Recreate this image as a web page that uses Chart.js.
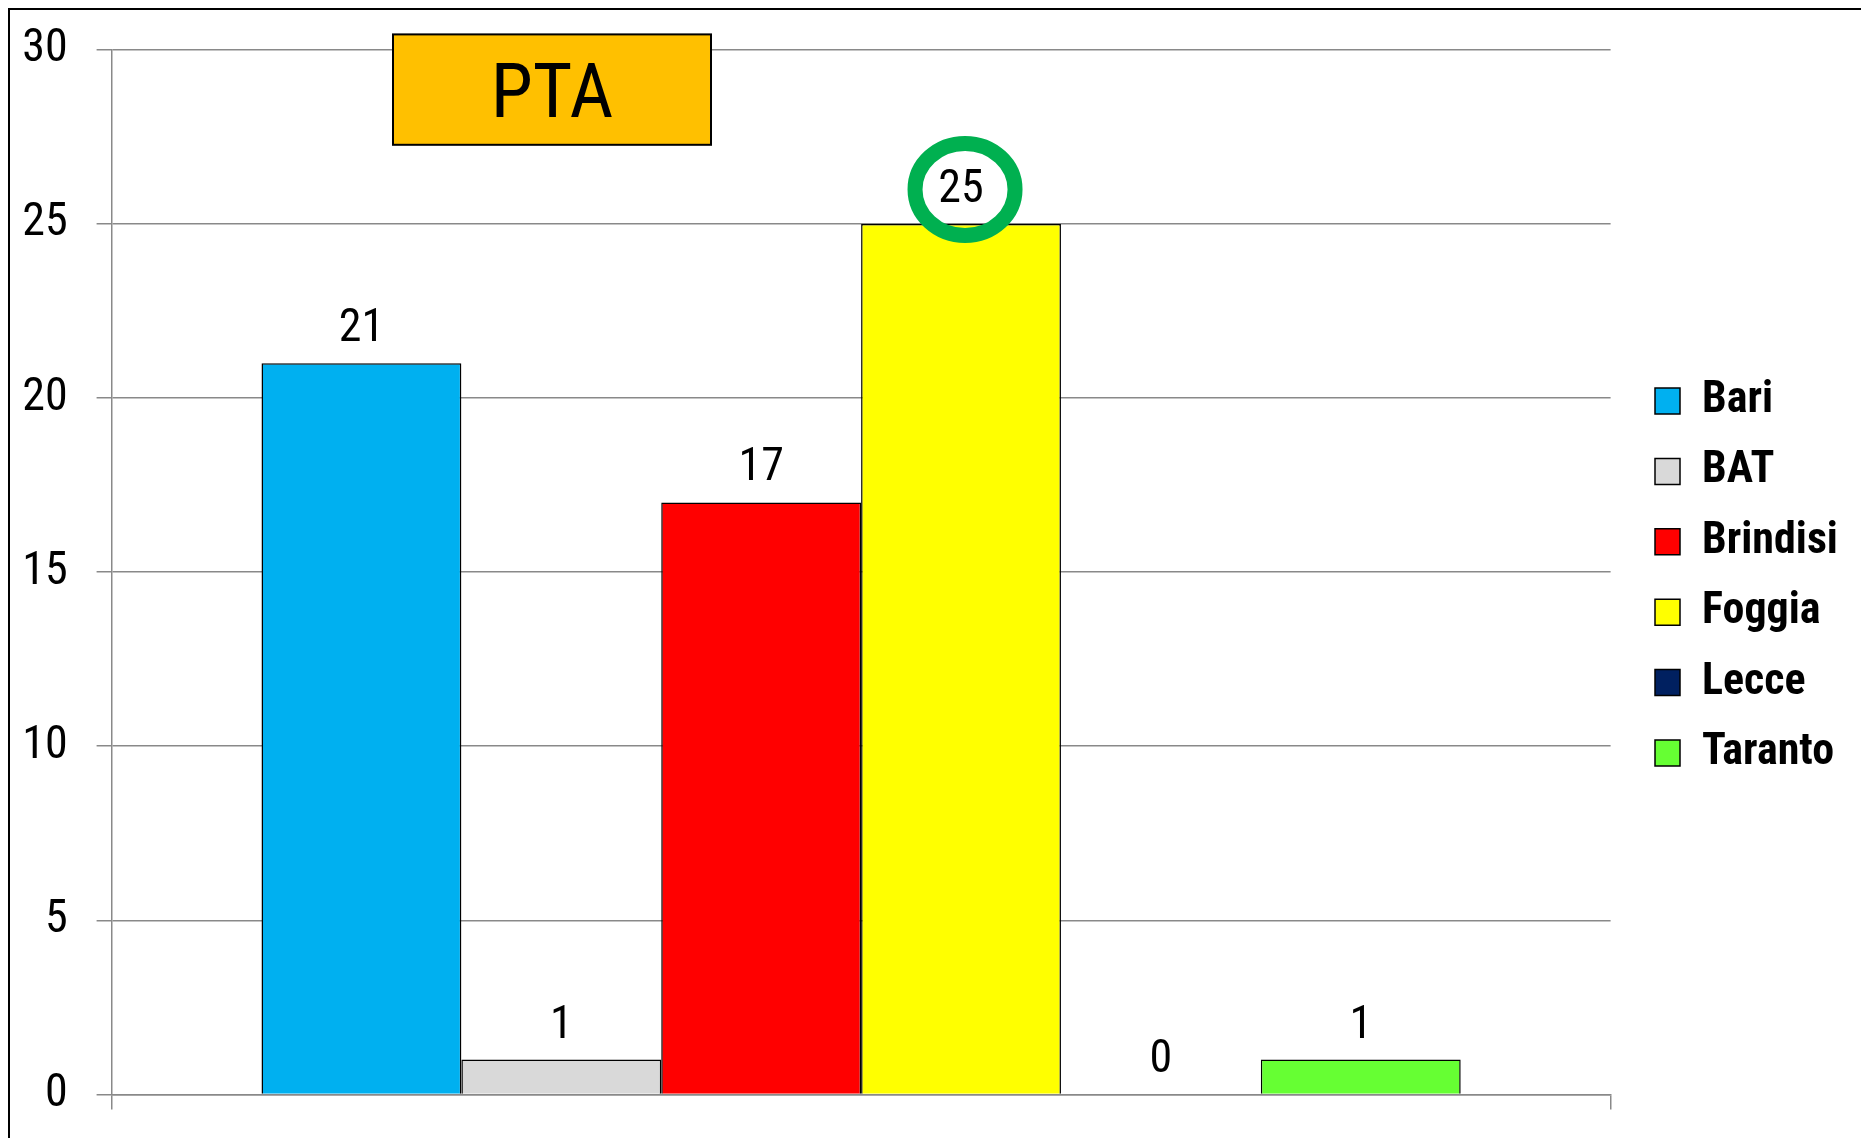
<!DOCTYPE html>
<html><head><meta charset="utf-8">
<script src="https://cdn.jsdelivr.net/npm/chart.js@4/dist/chart.umd.min.js"></script>
<style>html,body{margin:0;padding:0;background:#fff;overflow:hidden}canvas{display:block}</style>
</head><body>
<canvas id="c" width="1861" height="1138"></canvas>
<script>
// ---- data ----
const categories = [''];
const seriesNames = ['Bari', 'BAT', 'Brindisi', 'Foggia', 'Lecce', 'Taranto'];
const seriesValues = [21, 1, 17, 25, 0, 1];
const yTickMin = 0, yTickMax = 30, yTickStep = 5;
const chartTitle = 'PTA';
const highlightedSeries = 'Foggia';

// ---- styles ----
const seriesColors = ['#00B0F0', '#D9D9D9', '#FF0000', '#FFFF00', '#002060', '#66FF33'];
const W = 1861, H = 1138;

function fontAvailable(name) {
  const c = document.createElement('canvas').getContext('2d');
  const txt = 'mmmmmmmmmmlli0123456789BrindisiWW';
  return ['monospace', 'serif', 'sans-serif'].some(fb => {
    c.font = `40px ${fb}`;
    const w1 = c.measureText(txt).width;
    c.font = `40px '${name}', ${fb}`;
    const w2 = c.measureText(txt).width;
    return Math.abs(w1 - w2) > 0.01;
  });
}
const candidates = ['Liberation Sans Narrow', 'Arial Narrow', 'Roboto Condensed', 'DejaVu Sans Condensed', 'Liberation Sans'];
const chosen = candidates.find(fontAvailable) || 'sans-serif';
const FONT = `'${chosen}', sans-serif`;

const mctx = document.createElement('canvas').getContext('2d');
mctx.font = `100px ${FONT}`;
const m0 = mctx.measureText('0');
const digitH = (m0.actualBoundingBoxAscent + m0.actualBoundingBoxDescent) / 100;
const NUM_SIZE = Math.round(34 / digitH);
const capH = mctx.measureText('P').actualBoundingBoxAscent / 100;
const TITLE_SIZE = Math.round(54 / capH);

const AREA = {left: 111.6, top: 49.8, right: 1610.6, bottom: 1094.4};
let legSize = Math.round(31 / capH);
mctx.font = `bold ${legSize}px ${FONT}`;
const maxTextW = Math.max(...seriesNames.map(s => mctx.measureText(s).width));
const maxAllowed = W - 1697 - 14;
if (maxTextW > maxAllowed) { legSize = Math.floor(legSize * maxAllowed / maxTextW); }
const LEG = {size: legSize, box: 25, boxH: 26, pad: 70.4 - legSize, boxLeft: 1655, rowCenter: 401};
const AXIS_GRAY = '#898989';
const Y_TICK_GAP = 29, Y_TICK_MARK = 15;

let xAxisH = H - AREA.bottom, padTop = AREA.top, padRight = 20;

const decorations = {
  id: 'decorations',
  beforeDraw(chart) {
    const ctx = chart.ctx;
    ctx.save();
    ctx.fillStyle = '#fff';
    ctx.fillRect(0, 0, W, H);
    ctx.strokeStyle = '#000';
    ctx.lineWidth = 2;
    ctx.beginPath();
    ctx.moveTo(9, H + 5);
    ctx.lineTo(9, 9);
    ctx.lineTo(W + 5, 9);
    ctx.stroke();
    ctx.restore();
  },
  afterLayout(chart) {
    const lg = chart.legend;
    if (!lg) return;
    const dx = (LEG.boxLeft - LEG.pad) - lg.left;
    lg.left += dx; lg.right += dx;
    const colH = lg.columnSizes && lg.columnSizes[0] ? lg.columnSizes[0].height : 0;
    const curY = (lg.top + LEG.pad + lg.bottom - colH) / 2;
    const dy = (LEG.rowCenter - LEG.size / 2) - curY;
    lg.top += dy; lg.bottom += dy;
  },
  afterDatasetsDraw(chart) {
    const ctx = chart.ctx;
    ctx.save();
    ctx.font = `${NUM_SIZE}px ${FONT}`;
    ctx.fillStyle = '#000';
    ctx.textAlign = 'center';
    ctx.textBaseline = 'alphabetic';
    chart.data.datasets.forEach((ds, i) => {
      const meta = chart.getDatasetMeta(i);
      meta.data.forEach((bar, j) => {
        ctx.fillText(String(ds.data[j]), bar.x, bar.y - 22);
      });
      if (ds.label === highlightedSeries) {
        const bar = meta.data[0];
        ctx.save();
        ctx.strokeStyle = '#00B050';
        ctx.lineWidth = 15;
        ctx.beginPath();
        ctx.ellipse(bar.x + 4, bar.y - 34.5, 50, 46, 0, 0, Math.PI * 2);
        ctx.stroke();
        ctx.restore();
      }
    });
    const bx = 393, by = 34.4, bw = 318, bh = 110.4;
    ctx.fillStyle = '#FFC000';
    ctx.fillRect(bx, by, bw, bh);
    ctx.strokeStyle = '#000';
    ctx.lineWidth = 2;
    ctx.strokeRect(bx, by, bw, bh);
    ctx.fillStyle = '#000';
    ctx.font = `${TITLE_SIZE}px ${FONT}`;
    ctx.textAlign = 'center';
    ctx.fillText(chartTitle, bx + bw / 2, by + bh / 2 + 27);
    ctx.restore();
  }
};

const chart = new Chart(document.getElementById('c'), {
  type: 'bar',
  data: {
    labels: categories,
    datasets: seriesNames.map((name, i) => ({
      label: name,
      data: [seriesValues[i]],
      backgroundColor: seriesColors[i],
      borderColor: '#000',
      borderWidth: 1.5,
      categoryPercentage: 0.8,
      barPercentage: 1.0
    }))
  },
  options: {
    responsive: false,
    animation: false,
    devicePixelRatio: 1,
    layout: {padding: {top: padTop, right: padRight, bottom: 0, left: 0}},
    plugins: {
      tooltip: {enabled: false},
      title: {display: false},
      legend: {
        display: true,
        position: 'right',
        align: 'center',
        labels: {
          boxWidth: LEG.box,
          boxHeight: LEG.boxH,
          padding: LEG.pad,
          color: '#000',
          font: {family: FONT, size: LEG.size, weight: 'bold'}
        }
      }
    },
    scales: {
      x: {
        offset: true,
        grid: {display: true, drawOnChartArea: false, drawTicks: true, tickLength: 15, color: AXIS_GRAY, lineWidth: 1.5, offset: true},
        border: {display: true, color: AXIS_GRAY, width: 1.5},
        ticks: {display: false},
        afterFit: s => { s.height = xAxisH; }
      },
      y: {
        min: yTickMin, max: yTickMax,
        ticks: {stepSize: yTickStep, color: '#000', padding: 0, font: {family: FONT, size: NUM_SIZE}},
        grid: {
          color: AXIS_GRAY, lineWidth: 1.5, drawTicks: true,
          tickLength: Y_TICK_GAP + Y_TICK_MARK,
          tickBorderDash: [0, Y_TICK_GAP, Y_TICK_MARK, 1000]
        },
        border: {display: true, color: AXIS_GRAY, width: 1.5},
        afterFit: s => { s.width = AREA.left; }
      }
    }
  },
  plugins: [decorations]
});

// correct layout so the plot area lands where intended
for (let k = 0; k < 3; k++) {
  const ca = chart.chartArea;
  const dT = AREA.top - ca.top, dB = ca.bottom - AREA.bottom, dR = ca.right - AREA.right;
  if (Math.abs(dT) < 0.05 && Math.abs(dB) < 0.05 && Math.abs(dR) < 0.05) break;
  padTop += dT;
  xAxisH += dB;
  padRight += dR;
  chart.options.layout.padding = {top: padTop, right: padRight, bottom: 0, left: 0};
  chart.update();
}
</script>
</body></html>
